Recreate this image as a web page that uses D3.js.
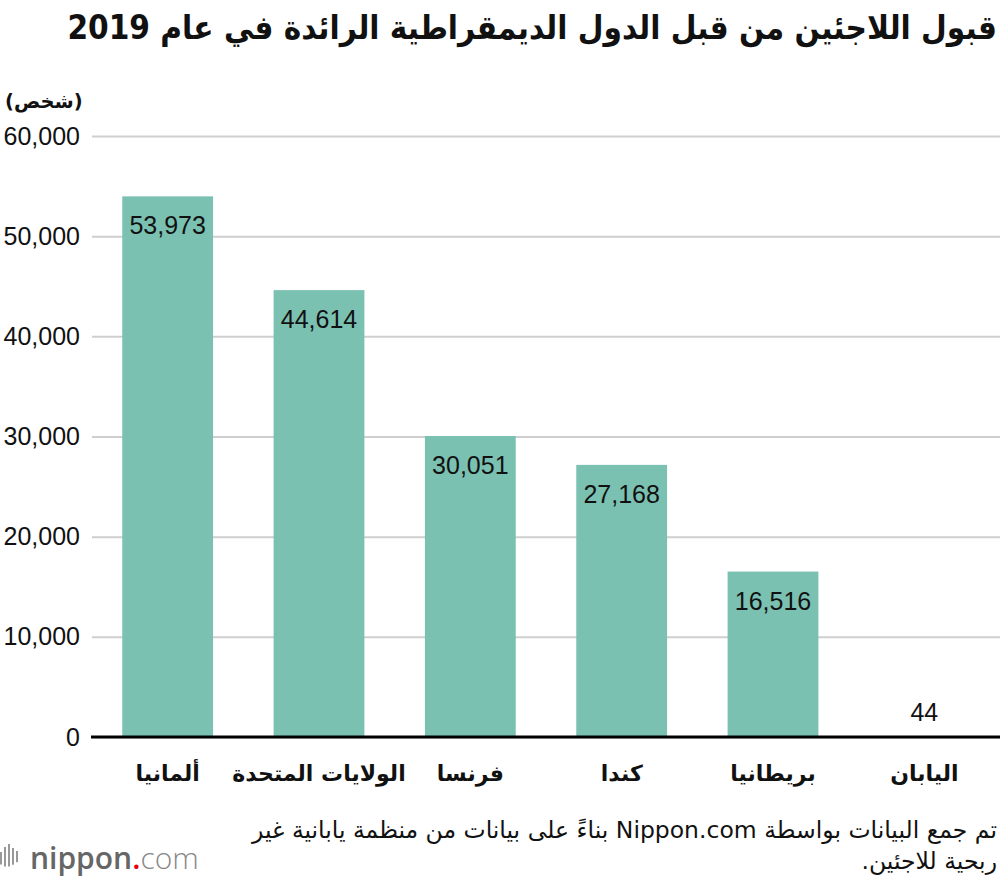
<!DOCTYPE html>
<head>
  <meta charset="utf-8">
  <title>Bar chart</title>
  <script src="https://d3js.org/d3.v7.min.js"></script>
  <style>
    body { margin: 0; background: #fff; }
    svg text { font-family: "Liberation Sans", Arial, sans-serif; }
    .ar { font-family: "DejaVu Sans", sans-serif; }
  </style>
</head>
<body>
  <div id="chart"></div>
  <script>
    // Daten
    var countries = ['ألمانيا', 'الولايات المتحدة', 'فرنسا', 'كندا', 'بريطانيا', 'اليابان'];
    var refugees = [53973, 44614, 30051, 27168, 16516, 44];
    var yTicks = [0, 10000, 20000, 30000, 40000, 50000, 60000];

    var title = 'قبول اللاجئين من قبل الدول الديمقراطية الرائدة في عام 2019';
    var unitLabel = '(شخص)';
    var sourceLines = ['تم جمع البيانات بواسطة Nippon.com بناءً على بيانات من منظمة يابانية غير', 'ربحية للاجئين.'];

    var width = 1000, height = 880;
    var margin = { top: 136, right: 0, bottom: 143, left: 92 };
    var innerW = width - margin.left - margin.right;
    var innerH = height - margin.top - margin.bottom;

    var x = d3.scaleBand()
      .domain(countries)
      .range([0, innerW])
      .paddingInner(0.4)
      .paddingOuter(0.2);

    var y = d3.scaleLinear()
      .domain([0, 60000])
      .range([innerH, 0]);

    var fmt = d3.format(',');

    var svg = d3.select('#chart').append('svg')
      .attr('width', width)
      .attr('height', height);

    // Titel (rtl: "start" = rechter Rand)
    svg.append('text')
      .attr('class', 'ar')
      .attr('x', 997).attr('y', 39)
      .attr('text-anchor', 'start')
      .attr('direction', 'rtl')
      .style('font-family', '"DejaVu Sans Condensed", "DejaVu Sans", sans-serif')
      .style('font-weight', 'bold')
      .style('font-size', '33px')
      .attr('fill', '#111')
      .text(title);

    // Einheit
    svg.append('text')
      .attr('class', 'ar')
      .attr('x', 5).attr('y', 108)
      .style('font-size', '19.5px')
      .style('font-weight', 'bold')
      .attr('fill', '#111')
      .text(unitLabel);

    var g = svg.append('g')
      .attr('transform', 'translate(' + margin.left + ',' + margin.top + ')');

    // Gitterlinien + y-Beschriftung
    var yAxis = d3.axisLeft(y)
      .tickValues(yTicks)
      .tickSize(-innerW)
      .tickPadding(12)
      .tickFormat(fmt);

    g.append('g')
      .call(yAxis)
      .call(function (a) {
        a.select('.domain').remove();
        a.selectAll('.tick line')
          .attr('stroke', '#cfcfcf')
          .attr('stroke-width', 2);
        a.selectAll('.tick text')
          .attr('fill', '#111')
          .style('font-size', '25px')
          .attr('x', -12);
      });

    // Balken
    g.selectAll('.bar')
      .data(refugees)
      .enter().append('rect')
      .attr('class', 'bar')
      .attr('x', function (d, i) { return x(countries[i]); })
      .attr('y', function (d) { return y(d); })
      .attr('width', x.bandwidth())
      .attr('height', function (d) { return innerH - y(d); })
      .attr('fill', '#7bc1b2');

    // Werte
    g.selectAll('.val')
      .data(refugees)
      .enter().append('text')
      .attr('class', 'val')
      .attr('x', function (d, i) { return x(countries[i]) + x.bandwidth() / 2; })
      .attr('y', function (d) { return innerH - y(d) > 50 ? y(d) + 38 : y(d) - 16; })
      .attr('text-anchor', 'middle')
      .style('font-size', '25px')
      .attr('fill', '#111')
      .text(function (d) { return fmt(d); });

    // x-Achse
    var xAxis = d3.axisBottom(x).tickSize(0).tickPadding(28);
    g.append('g')
      .attr('transform', 'translate(0,' + innerH + ')')
      .call(xAxis)
      .call(function (a) {
        a.select('.domain')
          .attr('stroke', '#000')
          .attr('stroke-width', 3)
          .attr('d', 'M-1,0H' + innerW);
        a.selectAll('.tick text')
          .attr('class', 'ar')
          .attr('fill', '#111')
          .style('font-family', '"DejaVu Sans", sans-serif')
          .style('font-weight', 'bold')
          .style('font-size', '22px');
      });

    // Quelle
    svg.selectAll('.src')
      .data(sourceLines)
      .enter().append('text')
      .attr('class', 'ar src')
      .attr('x', 997)
      .attr('y', function (d, i) { return 838 + i * 31; })
      .attr('text-anchor', 'start')
      .attr('direction', 'rtl')
      .style('font-size', '23.5px')
      .attr('fill', '#111')
      .text(function (d) { return d; });

    // Logo
    var logo = svg.append('g').attr('transform', 'translate(0,842)');
    var bars = [[1, 10, 18], [5, 5, 28], [9, 2, 32], [13, 6, 24], [17, 9, 16]];
    logo.selectAll('line')
      .data(bars)
      .enter().append('line')
      .attr('x1', function (d) { return d[0]; })
      .attr('x2', function (d) { return d[0]; })
      .attr('y1', function (d) { return d[1]; })
      .attr('y2', function (d) { return d[1] + d[2] * 0.7; })
      .attr('stroke', '#999')
      .attr('stroke-width', 2);
    var lt = logo.append('text')
      .attr('x', 30).attr('y', 27)
      .style('font-family', '"Open Sans", sans-serif')
      .style('font-size', '30px')
      .attr('fill', '#666');
    lt.append('tspan').style('font-weight', '600').text('nippon');
    lt.append('tspan').attr('fill', '#e60012').style('font-weight', '600').text('.');
    lt.append('tspan').style('font-weight', '300').attr('fill', '#888').text('com');
  </script>
</body>
